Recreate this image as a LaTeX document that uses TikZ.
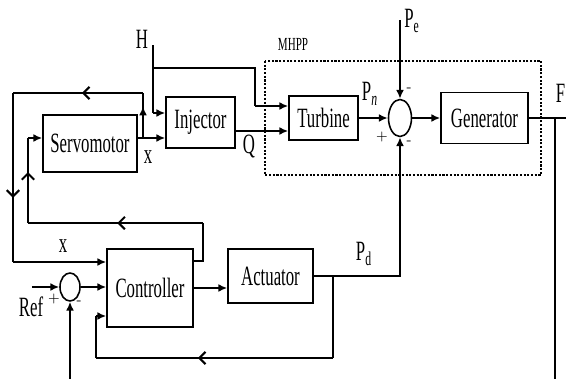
\documentclass[tikz,border=0pt]{standalone}
\usepackage{fontspec}
\newfontfamily\blockfont[FakeStretch=0.6]{Liberation Serif}
\usepackage{tikz}
\usetikzlibrary{shapes.geometric,arrows.meta,positioning,calc,decorations.markings}

\begin{document}
\begin{tikzpicture}[
    x=0.02cm, y=-0.02cm,
    block/.style={rectangle, draw, line width=0.9pt, inner sep=0pt,
        font=\blockfont\fontsize{15.9}{18}\selectfont},
    sumnode/.style={ellipse, draw, line width=0.9pt, inner sep=0pt},
    lbl/.style={font=\blockfont\fontsize{15.9}{18}\selectfont, inner sep=0pt},
    sgn/.style={font=\fontsize{8}{9}\selectfont, inner sep=0pt},
    wire/.style={line width=1.2pt},
    arr/.style={wire, -{Latex[length=5pt, width=4.5pt]}},
    midtip/.style={wire, postaction={decorate}, decoration={markings,
        mark=at position #1 with {\arrow{Latex[length=5pt, width=4.5pt]}}}},
    chev/.style={wire, postaction={decorate}, decoration={markings,
        mark=at position #1 with {\arrow{Straight Barb[length=3.5pt, width=7pt]}}}},
    chev/.default=0.5,
    mhpp/.style={line width=1.3pt, dash pattern=on 1.2pt off 0.9pt}
]
    \useasboundingbox (0,0) rectangle (566,379);

    % blocks
    \node[block, minimum width=1.88cm, minimum height=1.14cm] (servo) at (90,143.5) {Servomotor};
    \node[block, minimum width=1.38cm, minimum height=1.02cm] (inj) at (200.5,122.5) {Injector};
    \node[block, minimum width=1.38cm, minimum height=0.88cm] (turb) at (323.5,118) {Turbine};
    \node[block, minimum width=1.74cm, minimum height=1.02cm] (gen) at (484.5,118) {Generator};
    \node[block, minimum width=1.72cm, minimum height=1.56cm] (ctrl) at (150,288) {Controller};
    \node[block, minimum width=1.70cm, minimum height=1.08cm] (act) at (270.5,276) {Actuator};
    \node[sumnode, minimum width=0.46cm, minimum height=0.74cm] (sum1) at (400,118) {};
    \node[sumnode, minimum width=0.40cm, minimum height=0.56cm] (sum2) at (70,287) {};

    % MHPP frame
    \draw[mhpp] (265,61) rectangle (541,175);
    \node[font=\blockfont\fontsize{10.5}{12}\selectfont, inner sep=0pt] (mhpplbl) at (293,44) {MHPP};

    % bend points
    \coordinate (htop) at (153,45);
    \coordinate (hsplit) at (153,68);
    \coordinate (hbend) at (255,68);
    \coordinate (hin) at (153,113);
    \coordinate (tin) at (255,106);
    \coordinate (qy) at (0,131);
    \coordinate (xy) at (0,138);
    \coordinate (xsplit) at (143,138);
    \coordinate (xtop) at (143,93);
    \coordinate (xleft) at (13,93);
    \coordinate (xdown) at (13,262);
    \coordinate (cfr) at (203,261);
    \coordinate (cft) at (203,223);
    \coordinate (cfl) at (28,223);
    \coordinate (sin) at (28,138);
    \coordinate (refin) at (32,287);
    \coordinate (fbot) at (70,379);
    \coordinate (pdsplit) at (333,276);
    \coordinate (pdlow) at (333,358);
    \coordinate (cbl) at (96,358);
    \coordinate (cin) at (96,316);
    \coordinate (petop) at (400,20);
    \coordinate (fout) at (566,118);
    \coordinate (fsplit) at (555,118);
    \coordinate (fdown) at (555,379);

    % head
    \draw[wire] (htop) -- (hin);
    \draw[arr] (hin) -- (hin -| inj.west);
    \draw[wire] (hsplit) -- (hbend) -- (tin);
    \draw[arr] (tin) -- (tin -| turb.west);
    \draw[arr] (inj.east |- qy) -- (turb.west |- qy);

    % servomotor output and loops
    \draw[arr] (servo.east |- xy) -- (inj.west |- xy);
    \draw[midtip=0.7] (xsplit) -- (xtop);
    \draw[chev=0.47] (xtop) -- (xleft);
    \draw[chev=0.62] (xleft) -- (xdown);
    \draw[arr] (xdown) -- (xdown -| ctrl.west);
    \draw[wire] (ctrl.east |- cfr) -- (cfr) -- (cft);
    \draw[chev=0.49] (cft) -- (cfl);
    \draw[chev=0.6] (cfl) -- (sin);
    \draw[arr] (sin) -- (servo.west |- sin);

    % reference
    \draw[arr] (refin) -- (sum2.west);
    \draw[arr] (sum2.east) -- (sum2.east -| ctrl.west);
    \draw[arr] (fbot) -- (sum2.south);
    \draw[arr] (ctrl.east) -- (ctrl.east -| act.west);

    % actuator output
    \draw[arr] (act.east) -| (sum1.south);
    \draw[wire] (pdsplit) -- (pdlow);
    \draw[chev=0.57] (pdlow) -- (cbl);
    \draw[wire] (cbl) -- (cin);
    \draw[arr] (cin) -- (cin -| ctrl.west);

    % power balance
    \draw[arr] (turb.east) -- (sum1.west);
    \draw[arr] (sum1.east) -- (gen.west);
    \draw[arr] (petop) -- (sum1.north);
    \draw[wire] (gen.east) -- (fout);
    \draw[wire] (fsplit) -- (fdown);

    % labels
    \node[lbl] (hlbl) at (142,39) {H};
    \node[lbl] (xlbl1) at (148,157) {x};
    \node[lbl] (qlbl) at (249,147) {Q};
    \node[lbl] (xlbl2) at (63,246) {x};
    \node[lbl] (pelbl) at (412,21) {P\textsubscript{e}};
    \node[lbl] (pnlbl) at (370,94) {P\textsubscript{\textit{n}}};
    \node[lbl] (pdlbl) at (364,254) {P\textsubscript{d}};
    \node[lbl] (reflbl) at (31,307) {Ref};
    \node[lbl, anchor=east] (flbl) at (565.5,93) {F};
    \node[sgn] (s1) at (54,299) {+};
    \node[sgn] (s2) at (79,303) {-};
    \node[sgn] (s3) at (409,90) {-};
    \node[sgn] (s4) at (382,137) {+};
    \node[sgn] (s5) at (409,143) {-};
\end{tikzpicture}
\end{document}
